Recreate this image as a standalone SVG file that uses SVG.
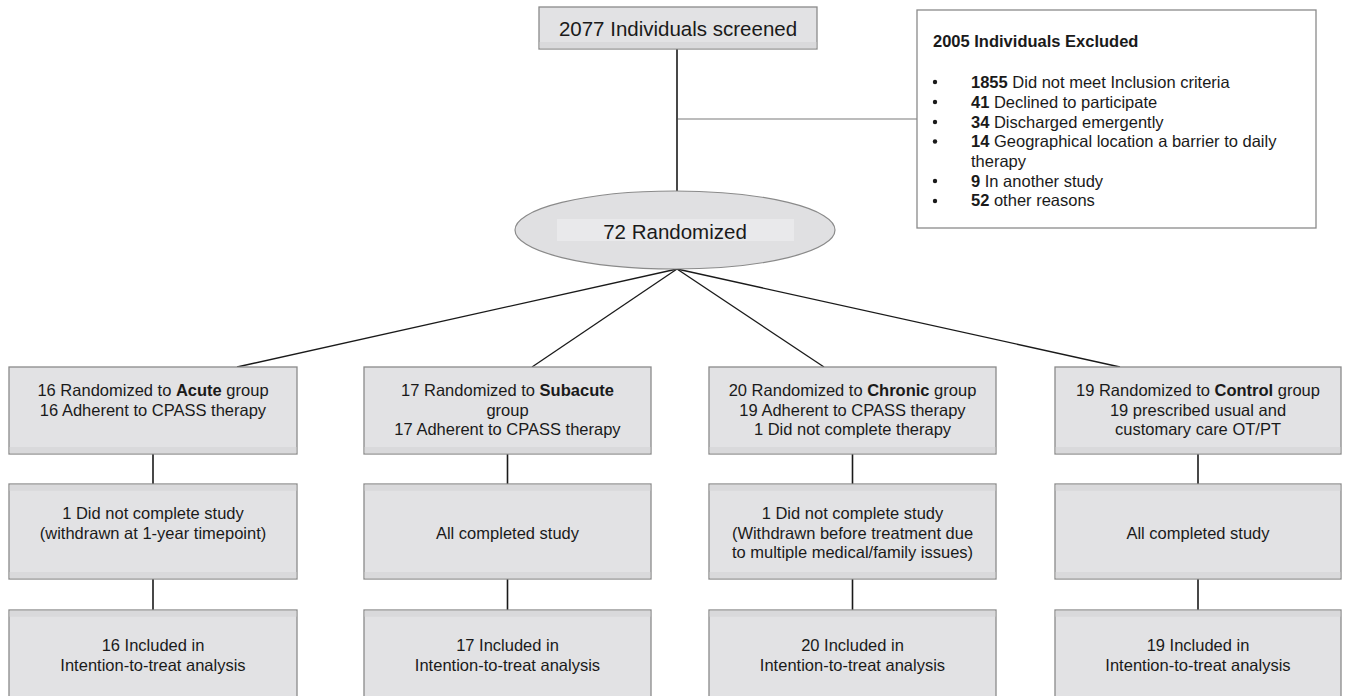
<svg xmlns="http://www.w3.org/2000/svg" width="1350" height="696" viewBox="0 0 1350 696">
<style>
text{font-family:"Liberation Sans",Arial,sans-serif;fill:#1a1a1a}
.t{font-size:16.5px;text-anchor:middle}
.big{font-size:20.5px;text-anchor:middle}
.ex{font-size:16.5px}
.b{font-weight:bold}
.box{fill:#e2e2e4;stroke:#8a8a8a;stroke-width:1.3}
.band{fill:#d9d9db}
.conn{stroke:#1a1a1a;stroke-width:1.6;fill:none}
.fan{stroke:#1a1a1a;stroke-width:1.3;fill:none}
.gray{stroke:#7a7a7a;stroke-width:1.1;fill:none}
</style>
<rect width="1350" height="696" fill="#ffffff"/>
<g id="connectors">
<line class="conn" x1="677" y1="49" x2="677" y2="191"/>
<line class="gray" x1="678" y1="119" x2="917" y2="119"/>
<line class="fan" x1="677" y1="269" x2="237" y2="367"/>
<line class="fan" x1="677" y1="269" x2="532" y2="367"/>
<line class="fan" x1="677" y1="269" x2="824" y2="367"/>
<line class="fan" x1="677" y1="269" x2="1120" y2="367"/>
<line class="conn" x1="153" y1="454" x2="153" y2="484"/>
<line class="conn" x1="153" y1="579" x2="153" y2="610"/>
<line class="conn" x1="507.5" y1="454" x2="507.5" y2="484"/>
<line class="conn" x1="507.5" y1="579" x2="507.5" y2="610"/>
<line class="conn" x1="852.5" y1="454" x2="852.5" y2="484"/>
<line class="conn" x1="852.5" y1="579" x2="852.5" y2="610"/>
<line class="conn" x1="1198" y1="454" x2="1198" y2="484"/>
<line class="conn" x1="1198" y1="579" x2="1198" y2="610"/>
</g>
<g id="screened">
<rect class="box" x="539" y="7" width="278" height="42"/>
<rect class="band" x="539.7" y="42" width="276.6" height="6.3"/>
<text class="big" x="678" y="35.5">2077 Individuals screened</text>
</g>
<g id="excluded">
<rect x="917" y="10" width="399" height="218" fill="#ffffff" stroke="#8a8a8a" stroke-width="1.3"/>
<text class="ex b" x="933" y="47">2005 Individuals Excluded</text>
<g fill="#1a1a1a">
<circle cx="935" cy="82" r="2.2"/>
<circle cx="935" cy="102" r="2.2"/>
<circle cx="935" cy="122" r="2.2"/>
<circle cx="935" cy="141.5" r="2.2"/>
<circle cx="935" cy="181" r="2.2"/>
<circle cx="935" cy="201" r="2.2"/>
</g>
<text class="ex" x="971" y="87.5"><tspan class="b">1855</tspan> Did not meet Inclusion criteria</text>
<text class="ex" x="971" y="107.5"><tspan class="b">41</tspan> Declined to participate</text>
<text class="ex" x="971" y="127.5"><tspan class="b">34</tspan> Discharged emergently</text>
<text class="ex" x="971" y="147"><tspan class="b">14</tspan> Geographical location a barrier to daily</text>
<text class="ex" x="971" y="166.5">therapy</text>
<text class="ex" x="971" y="186.5"><tspan class="b">9</tspan> In another study</text>
<text class="ex" x="971" y="206"><tspan class="b">52</tspan> other reasons</text>
</g>
<g id="randomized">
<ellipse cx="675" cy="230" rx="160" ry="39" fill="#e0e0e2" stroke="#8a8a8a" stroke-width="1.2"/>
<rect x="557" y="219" width="237" height="22" fill="#e9e9eb"/>
<text class="big" x="675" y="239">72 Randomized</text>
</g>
<g id="acute-group">
<rect class="box" x="9" y="367" width="288" height="87"/>
<rect class="band" x="9.7" y="447" width="286.6" height="6.3"/>
<text class="t" x="153" y="396">16 Randomized to <tspan class="b">Acute</tspan> group</text>
<text class="t" x="153" y="415.5">16 Adherent to CPASS therapy</text>
</g>
<g id="subacute-group">
<rect class="box" x="364" y="367" width="287" height="87"/>
<rect class="band" x="364.7" y="447" width="285.6" height="6.3"/>
<text class="t" x="507.5" y="396">17 Randomized to <tspan class="b">Subacute</tspan></text>
<text class="t" x="507.5" y="415.5">group</text>
<text class="t" x="507.5" y="435">17 Adherent to CPASS therapy</text>
</g>
<g id="chronic-group">
<rect class="box" x="709" y="367" width="287" height="87"/>
<rect class="band" x="709.7" y="447" width="285.6" height="6.3"/>
<text class="t" x="852.5" y="396">20 Randomized to <tspan class="b">Chronic</tspan> group</text>
<text class="t" x="852.5" y="415.5">19 Adherent to CPASS therapy</text>
<text class="t" x="852.5" y="435">1 Did not complete therapy</text>
</g>
<g id="control-group">
<rect class="box" x="1055" y="367" width="286" height="87"/>
<rect class="band" x="1055.7" y="447" width="284.6" height="6.3"/>
<text class="t" x="1198" y="396">19 Randomized to <tspan class="b">Control</tspan> group</text>
<text class="t" x="1198" y="415.5">19 prescribed usual and</text>
<text class="t" x="1198" y="435">customary care OT/PT</text>
</g>
<g id="acute-followup">
<rect class="box" x="9" y="484" width="288" height="95"/>
<rect class="band" x="9.7" y="484.7" width="286.6" height="6"/>
<rect class="band" x="9.7" y="572" width="286.6" height="6.3"/>
<text class="t" x="153" y="519">1 Did not complete study</text>
<text class="t" x="153" y="538.5">(withdrawn at 1-year timepoint)</text>
</g>
<g id="subacute-followup">
<rect class="box" x="364" y="484" width="287" height="95"/>
<rect class="band" x="364.7" y="484.7" width="285.6" height="6"/>
<rect class="band" x="364.7" y="572" width="285.6" height="6.3"/>
<text class="t" x="507.5" y="538.5">All completed study</text>
</g>
<g id="chronic-followup">
<rect class="box" x="709" y="484" width="287" height="95"/>
<rect class="band" x="709.7" y="484.7" width="285.6" height="6"/>
<rect class="band" x="709.7" y="572" width="285.6" height="6.3"/>
<text class="t" x="852.5" y="519">1 Did not complete study</text>
<text class="t" x="852.5" y="538.5">(Withdrawn before treatment due</text>
<text class="t" x="852.5" y="558">to multiple medical/family issues)</text>
</g>
<g id="control-followup">
<rect class="box" x="1055" y="484" width="286" height="95"/>
<rect class="band" x="1055.7" y="484.7" width="284.6" height="6"/>
<rect class="band" x="1055.7" y="572" width="284.6" height="6.3"/>
<text class="t" x="1198" y="538.5">All completed study</text>
</g>
<g id="acute-itt">
<rect class="box" x="9" y="610" width="288" height="95"/>
<rect class="band" x="9.7" y="610.7" width="286.6" height="6"/>
<text class="t" x="153" y="651">16 Included in</text>
<text class="t" x="153" y="670.5">Intention-to-treat analysis</text>
</g>
<g id="subacute-itt">
<rect class="box" x="364" y="610" width="287" height="95"/>
<rect class="band" x="364.7" y="610.7" width="285.6" height="6"/>
<text class="t" x="507.5" y="651">17 Included in</text>
<text class="t" x="507.5" y="670.5">Intention-to-treat analysis</text>
</g>
<g id="chronic-itt">
<rect class="box" x="709" y="610" width="287" height="95"/>
<rect class="band" x="709.7" y="610.7" width="285.6" height="6"/>
<text class="t" x="852.5" y="651">20 Included in</text>
<text class="t" x="852.5" y="670.5">Intention-to-treat analysis</text>
</g>
<g id="control-itt">
<rect class="box" x="1055" y="610" width="286" height="95"/>
<rect class="band" x="1055.7" y="610.7" width="284.6" height="6"/>
<text class="t" x="1198" y="651">19 Included in</text>
<text class="t" x="1198" y="670.5">Intention-to-treat analysis</text>
</g>
</svg>
